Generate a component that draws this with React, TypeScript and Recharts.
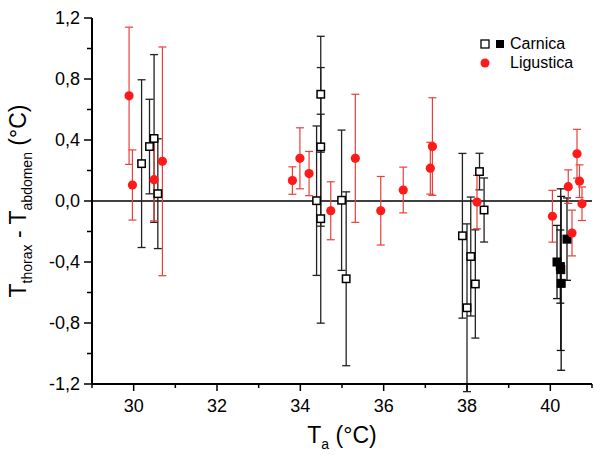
import React from 'react';
import { ScatterChart, Scatter, XAxis, YAxis, ErrorBar, ReferenceLine } from 'recharts';

// Ligustica (red circles)
const ligusticaX = [29.89, 29.97, 30.49, 30.69, 33.81, 33.99, 34.21, 34.73, 35.32, 35.93, 36.47, 37.12, 37.17, 38.24, 40.05, 40.43, 40.52, 40.64, 40.70, 40.76];
const ligusticaY = [0.69, 0.105, 0.14, 0.26, 0.134, 0.28, 0.18, -0.064, 0.28, -0.064, 0.072, 0.215, 0.357, -0.007, -0.10, 0.094, -0.21, 0.31, 0.13, -0.018];
const ligusticaErr = [0.45, 0.23, 0.27, 0.75, 0.09, 0.2, 0.145, 0.19, 0.42, 0.225, 0.15, 0.17, 0.32, 0.175, 0.17, 0.11, 0.15, 0.16, 0.107, 0.11];

// Carnica (open squares)
const carnicaOpenX = [30.19, 30.38, 30.49, 30.58, 34.49, 34.49, 34.49, 34.39, 34.99, 35.10, 37.89, 38.00, 38.09, 38.20, 38.30, 38.41];
const carnicaOpenY = [0.245, 0.357, 0.41, 0.048, 0.70, 0.355, -0.116, 0.002, 0.005, -0.51, -0.228, -0.70, -0.364, -0.544, 0.193, -0.059];
const carnicaOpenErr = [0.55, 0.31, 0.55, 0.36, 0.38, 0.52, 0.685, 0.49, 0.46, 0.57, 0.54, 0.55, 0.39, 0.355, 0.12, 0.21];

// Carnica (filled squares)
const carnicaFilledX = [40.16, 40.24, 40.25, 40.26, 40.40];
const carnicaFilledY = [-0.40, -0.43, -0.45, -0.54, -0.25];
const carnicaFilledErr = [0.24, 0.24, 0.53, 0.57, 0.27];

const xTicks = [29, 30, 31, 32, 33, 34, 35, 36, 37, 38, 39, 40, 41];
const yTicks = [-1.2, -1.0, -0.8, -0.6, -0.4, -0.2, 0, 0.2, 0.4, 0.6, 0.8, 1.0, 1.2];

const build = (xs: number[], ys: number[], es: number[]) =>
  xs.map((x, i) => ({ x, y: ys[i], err: es[i] }));

const ligData = build(ligusticaX, ligusticaY, ligusticaErr);
const carOpenData = build(carnicaOpenX, carnicaOpenY, carnicaOpenErr);
const carFilledData = build(carnicaFilledX, carnicaFilledY, carnicaFilledErr);

const FONT = '"Liberation Sans", Arial, sans-serif';
const RED = '#ff1a1a';
const RED_BAR = '#e8403a';

const XTick = (props: any) => {
  const { x, y, payload } = props;
  const v = payload.value;
  const major = Math.round(v) % 2 === 0;
  return (
    <g>
      <line x1={x} y1={y} x2={x} y2={y + (major ? 7 : 4)} stroke="#000" strokeWidth={1.5} />
      {major && (
        <text x={x} y={y + 28} textAnchor="middle" fontSize={18} fontFamily={FONT} fill="#000">
          {v}
        </text>
      )}
    </g>
  );
};

const YTick = (props: any) => {
  const { x, y, payload } = props;
  const v = payload.value;
  const k = Math.round(v * 10);
  const major = Math.abs(k) % 4 === 0;
  const label = (Math.abs(v) < 1e-9 ? 0 : v).toFixed(1).replace('.', ',');
  return (
    <g>
      <line x1={x - (major ? 8 : 5)} y1={y} x2={x} y2={y} stroke="#000" strokeWidth={1.5} />
      {major && (
        <text x={x - 12} y={y} dy="0.35em" textAnchor="end" fontSize={18} fontFamily={FONT} fill="#000">
          {label}
        </text>
      )}
    </g>
  );
};

const XTitle = (props: any) => {
  const vb = props.viewBox;
  const cx = vb.x + vb.width / 2;
  return (
    <text x={cx} y={vb.y + 59} textAnchor="middle" fontFamily={FONT} fontSize={23} fill="#000">
      <tspan>T</tspan>
      <tspan fontSize={14} dy={6}>a</tspan>
      <tspan dy={-6}> (°C)</tspan>
    </text>
  );
};

const YTitle = (props: any) => {
  const vb = props.viewBox;
  const cx = vb.x - 6;
  const cy = vb.y + vb.height / 2;
  return (
    <text
      x={cx}
      y={cy}
      textAnchor="middle"
      fontFamily={FONT}
      fontSize={23}
      fill="#000"
      transform={`rotate(-90, ${cx}, ${cy})`}
    >
      <tspan>T</tspan>
      <tspan fontSize={14} dy={6}>thorax</tspan>
      <tspan dy={-6}> - T</tspan>
      <tspan fontSize={14} dy={6}>abdomen</tspan>
      <tspan dy={-6}> (°C)</tspan>
    </text>
  );
};

const OpenSquare = (p: any) => (
  <rect x={p.cx - 3.7} y={p.cy - 3.7} width={7.4} height={7.4} fill="#fff" stroke="#000" strokeWidth={1.5} />
);
const FilledSquare = (p: any) => (
  <rect x={p.cx - 4} y={p.cy - 4} width={8} height={8} fill="#000" stroke="#000" strokeWidth={1} />
);
const RedDot = (p: any) => <circle cx={p.cx} cy={p.cy} r={4.6} fill={RED} />;

export default function App() {
  return (
    <div style={{ position: 'absolute', left: 0, top: 0, width: 600, height: 460, background: '#fff' }}>
      <ScatterChart width={600} height={460} margin={{ top: 18, right: 8, bottom: 36, left: 32 }}>
        <XAxis
          type="number"
          dataKey="x"
          domain={[29, 41]}
          ticks={xTicks}
          interval={0}
          allowDataOverflow
          tickSize={0}
          tickMargin={0}
          tickLine={false}
          axisLine={{ stroke: '#000', strokeWidth: 2 }}
          tick={<XTick />}
          height={40}
          label={{ content: <XTitle /> }}
        />
        <YAxis
          type="number"
          dataKey="y"
          domain={[-1.2, 1.2]}
          ticks={yTicks}
          interval={0}
          allowDataOverflow
          tickSize={0}
          tickMargin={0}
          tickLine={false}
          axisLine={{ stroke: '#000', strokeWidth: 2 }}
          tick={<YTick />}
          width={60}
          label={{ content: <YTitle /> }}
        />
        <ReferenceLine y={0} stroke="#000" strokeWidth={1.5} />
        <Scatter data={carOpenData} shape={<OpenSquare />} isAnimationActive={false}>
          <ErrorBar dataKey="err" direction="y" width={4} stroke="#222" strokeWidth={1.3} isAnimationActive={false} />
        </Scatter>
        <Scatter data={carFilledData} shape={<FilledSquare />} isAnimationActive={false}>
          <ErrorBar dataKey="err" direction="y" width={4} stroke="#111" strokeWidth={1.3} isAnimationActive={false} />
        </Scatter>
        <Scatter data={ligData} shape={<RedDot />} isAnimationActive={false}>
          <ErrorBar dataKey="err" direction="y" width={4} stroke={RED_BAR} strokeWidth={1.2} isAnimationActive={false} />
        </Scatter>
      </ScatterChart>
      <div style={{ position: 'absolute', left: 478, top: 34, fontFamily: FONT, fontSize: 16, color: '#000', lineHeight: '19px' }}>
        <div style={{ display: 'flex', alignItems: 'center' }}>
          <svg width={30} height={12}>
            <rect x={3} y={2} width={8} height={8} fill="#fff" stroke="#000" strokeWidth={1.3} />
            <rect x={18} y={2} width={8} height={8} fill="#000" />
          </svg>
          <span style={{ marginLeft: 2 }}>Carnica</span>
        </div>
        <div style={{ display: 'flex', alignItems: 'center' }}>
          <svg width={30} height={12}>
            <circle cx={7} cy={6} r={4.5} fill={RED} />
          </svg>
          <span style={{ marginLeft: 2 }}>Ligustica</span>
        </div>
      </div>
    </div>
  );
}
